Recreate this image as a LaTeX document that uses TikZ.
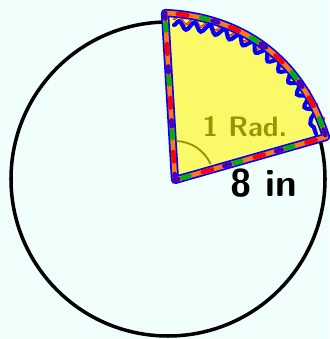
\documentclass[tikz,border=0pt]{standalone}
\usepackage{xcolor}
\usetikzlibrary{decorations.pathmorphing}
\definecolor{bgmint}{RGB}{241,255,252}
\definecolor{padyellow}{RGB}{250,250,105}
\definecolor{olivetext}{RGB}{150,150,0}
\definecolor{rimorange}{RGB}{255,120,20}

\begin{document}
\begin{tikzpicture}[
		x=0.03cm, y=0.03cm,
		rim/.style={line width=4pt, line cap=round, line join=round},
		bluerim/.style={rim, draw=blue, line width=7pt},
		wave/.style={decorate, decoration={snake, amplitude=3.5, segment length=13}, line cap=round},
		label/.style={inner sep=0pt, font=\sffamily}
		]

		\fill[bgmint] (0,0) rectangle (329,339);
		\useasboundingbox (0,0) rectangle (329,339);

		\coordinate (ctr) at (168,160);
		\coordinate (apex) at (175,159);
		\coordinate (top) at (165,326);
		\coordinate (rgt) at (326,202);
		\coordinate (top2) at (174,314);
		\coordinate (rgt2) at (316,205);

		\draw[line width=3pt] (ctr) circle (157);

		\fill[padyellow] (apex) -- (top) to[bend left=35] (rgt) -- cycle;

		\draw[wave, draw=red, line width=1.8pt] ([yshift=5]top2) to[bend left=32] ([xshift=5,yshift=1]rgt2);
		\draw[wave, draw=rimorange, line width=0.8pt] ([yshift=5]top2) to[bend left=32] ([xshift=5,yshift=1]rgt2);
		\draw[wave, draw=blue, line width=3.5pt] (top2) to[bend left=35] (rgt2);

		\draw[bluerim] (apex) -- (top) to[bend left=35] (rgt) -- cycle;
		\draw[rim, draw=rimorange] (apex) -- (top) to[bend left=35] (rgt) -- cycle;
		\draw[rim, draw=green!70!black, dash pattern=on 6 off 40, dash phase=10] (apex) -- (top) to[bend left=35] (rgt) -- cycle;
		\draw[rim, draw=red, dash pattern=on 8 off 38, dash phase=30] (apex) -- (top) to[bend left=35] (rgt) -- cycle;
		\draw[rim, draw=violet!60!blue, dash pattern=on 5 off 41, dash phase=0] (apex) -- (top) to[bend left=35] (rgt) -- cycle;

		\draw[olivetext, line width=1.6pt] (apex) ++(88:39) arc[start angle=88, end angle=24, radius=39];

		\node[label, olivetext, font=\sffamily\bfseries\fontsize{24}{24}\selectfont] (rad) at (245,212) {1 Rad.};
		\node[label, font=\sffamily\bfseries\fontsize{33}{33}\selectfont] (len) at (264,156) {8 in};
	\end{tikzpicture}
\end{document}
